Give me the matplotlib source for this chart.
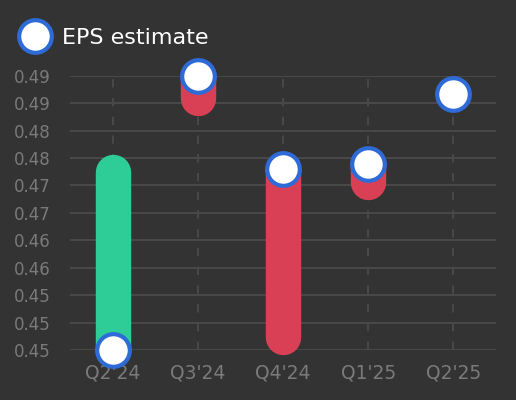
import numpy as np
import matplotlib.pyplot as plt
from matplotlib.lines import Line2D

# datos
quarters = ["Q2'24", "Q3'24", "Q4'24", "Q1'25", "Q2'25"]
eps_estimate = [0.446, 0.490, 0.4750, 0.4758, 0.4871]
eps_actual = [0.4746, 0.4865, 0.4481, 0.4730, None]
y_ticks = [0.446, 0.4504, 0.4548, 0.4592, 0.4636, 0.468, 0.4724, 0.4768, 0.4812, 0.4856, 0.490]
y_tick_labels = ['0.45', '0.45', '0.45', '0.46', '0.46', '0.47', '0.47', '0.48', '0.48', '0.49', '0.49']

bg = '#333333'
green = '#2ecc96'
red = '#d94055'
blue = '#2f6bd6'

fig = plt.figure(figsize=(5.16, 4.0), dpi=100, facecolor=bg)
ax = fig.add_axes([70/516, 50/400, 426/516, 274.3/400], facecolor=bg)

x = np.arange(len(quarters))

# barras entre estimado y real
for i, (est, act) in enumerate(zip(eps_estimate, eps_actual)):
    if act is None:
        continue
    color = green if act >= est else red
    ax.plot([i, i], [est, act], color=color, linewidth=25.5, solid_capstyle='round',
            zorder=3, clip_on=False)

# puntos del estimado
ax.plot(x, eps_estimate, linestyle='none', marker='o', markersize=23.5,
        markerfacecolor='white', markeredgecolor=blue, markeredgewidth=3,
        zorder=4, clip_on=False)

ax.set_xlim(-0.5, len(quarters) - 0.5)
ax.set_ylim(min(eps_estimate), max(eps_estimate))
ax.set_xticks(x)
ax.set_xticklabels(quarters)
ax.set_yticks(y_ticks)
ax.set_yticklabels(y_tick_labels)

ax.tick_params(axis='y', colors='#7a7a7a', labelsize=12, length=0, pad=14)
ax.tick_params(axis='x', colors='#7a7a7a', labelsize=13.5, length=0, pad=10)

ax.grid(axis='y', color='#484848', linewidth=1.5, zorder=0)
ax.grid(axis='x', color='#484848', linewidth=1.5, linestyle=(0, (4, 5)), zorder=0)
for s in ax.spines.values():
    s.set_visible(False)

# leyenda
handle = Line2D([], [], linestyle='none', marker='o', markersize=23.5,
                markerfacecolor='white', markeredgecolor=blue, markeredgewidth=3)
fig.legend([handle], ['EPS estimate'], loc='center left',
           bbox_to_anchor=(23.5/516, 362/400),
           frameon=False, fontsize=16, labelcolor='white',
           handlelength=1.0, handletextpad=0.75, borderaxespad=0, borderpad=0)

fig.savefig('out.png', dpi=100, facecolor=bg)
